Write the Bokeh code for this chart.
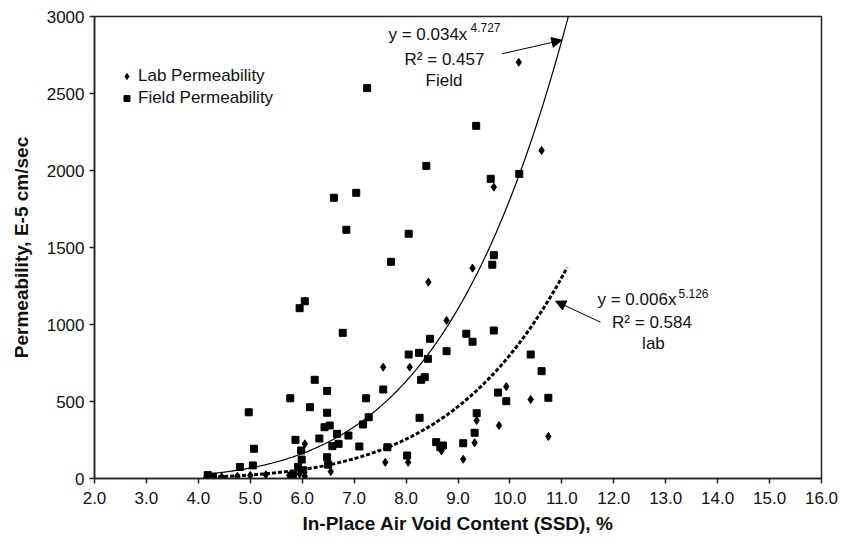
from bokeh.plotting import figure
from bokeh.models import (Range1d, Legend, LegendItem, Label, Arrow, NormalHead,
                          FixedTicker, NumeralTickFormatter, ColumnDataSource)
from bokeh.embed import file_html
from bokeh.resources import INLINE
import numpy as np

# ---------------- data ----------------
field_x = [4.18, 4.28, 4.80, 5.05, 4.97, 5.07, 5.77, 5.82, 5.87, 5.92, 6.02, 5.99,
           5.95, 6.05, 6.15, 6.24, 6.33, 6.43, 6.53, 6.48, 6.48, 6.48, 6.50, 6.58,
           6.70, 6.67, 6.89, 6.61, 6.85, 6.78, 7.04, 7.25, 7.10, 7.17, 7.23, 7.28,
           7.56, 7.64, 7.71, 8.02, 8.05, 8.05, 8.25, 8.26, 8.29, 8.36, 8.39, 8.42,
           8.46, 8.58, 8.66, 8.71, 8.78, 9.10, 9.16, 9.28, 9.32, 9.36, 9.35, 9.63,
           9.66, 9.69, 9.69, 9.77, 9.93, 10.18, 10.40, 10.61, 10.74, 5.98]
field_y = [22, 12, 75, 85, 430, 193, 521, 22, 251, 75, 54, 123,
           1106, 1151, 463, 641, 260, 333, 344, 427, 569, 138, 90, 210,
           225, 290, 279, 1823, 1615, 946, 1855, 2535, 208, 351, 521, 398,
           578, 203, 1407, 149, 805, 1589, 816, 394, 641, 658, 2030, 777,
           907, 236, 203, 214, 827, 229, 940, 888, 297, 424, 2290, 1946,
           1388, 1450, 961, 558, 502, 1978, 805, 697, 524, 182]

lab_x = [4.15, 4.22, 4.30, 4.45, 4.75, 5.00, 5.30, 5.75, 5.95, 6.05, 6.05, 6.55,
         7.56, 7.60, 8.04, 8.07, 8.43, 8.68, 8.78, 9.10, 9.28, 9.32, 9.36, 9.69,
         9.79, 9.93, 10.17, 10.40, 10.61, 10.74]
lab_y = [5, 8, 6, 10, 15, 20, 25, 20, 30, 15, 225, 45,
         723, 105, 105, 723, 1275, 180, 1026, 125, 1366, 232, 377, 1892,
         344, 597, 2703, 513, 2130, 273]

x_ticks = [2.0, 3.0, 4.0, 5.0, 6.0, 7.0, 8.0, 9.0, 10.0, 11.0, 12.0, 13.0, 14.0, 15.0, 16.0]
y_ticks = [0, 500, 1000, 1500, 2000, 2500, 3000]

# power trendlines shown on the chart: y = a * x^b
field_fit = (0.034, 4.727)
lab_fit = (0.006, 5.126)
field_fit_range = (4.15, 11.2)
lab_fit_range = (4.15, 11.1)

FONT = "Liberation Sans"

p = figure(width=841, height=541, output_backend="svg", toolbar_location=None,
           x_range=Range1d(2, 16), y_range=Range1d(0, 3000),
           min_border_left=94, min_border_right=20, min_border_top=16,
           min_border_bottom=63, background_fill_color="white",
           border_fill_color="white")
p.grid.visible = False
p.outline_line_color = "#222222"
p.outline_line_width = 1.5

# trendlines
xf = np.linspace(field_fit_range[0], field_fit_range[1], 300)
p.line(xf, field_fit[0] * xf ** field_fit[1], line_color="black", line_width=1.2)
xl = np.linspace(lab_fit_range[0], lab_fit_range[1], 300)
p.line(xl, lab_fit[0] * xl ** lab_fit[1], line_color="black", line_width=3,
       line_dash="4 2")

# scatter series
r_lab = p.scatter(lab_x, lab_y, marker="diamond", size=8, fill_color="black",
                  line_color="black")
r_field = p.scatter(field_x, field_y, marker="square", size=7, fill_color="black",
                    line_color="black")

legend = Legend(items=[LegendItem(label="Lab Permeability", renderers=[r_lab]),
                       LegendItem(label="Field Permeability", renderers=[r_field])],
                location=(25, 370), padding=0, margin=0, spacing=2,
                glyph_width=15, glyph_height=20, label_height=20,
                label_standoff=4, border_line_color=None,
                background_fill_alpha=0,
                label_text_font=FONT, label_text_font_size="17px",
                label_text_color="#111111")
p.add_layout(legend, "center")

# axes
for ax in (p.xaxis, p.yaxis):
    ax.axis_line_color = "#222222"
    ax.axis_line_width = 1.5
    ax.major_tick_line_color = "#222222"
    ax.major_tick_line_width = 1.5
    ax.major_tick_out = 5
    ax.major_tick_in = 0
    ax.minor_tick_out = 0
    ax.minor_tick_in = 0
    ax.major_label_text_font = FONT
    ax.major_label_text_font_size = "17px"
    ax.major_label_text_color = "#111111"
    ax.axis_label_text_font = FONT
    ax.axis_label_text_font_size = "19px"
    ax.axis_label_text_font_style = "bold"
    ax.axis_label_text_color = "#111111"

p.xaxis.ticker = FixedTicker(ticks=x_ticks)
p.xaxis.formatter = NumeralTickFormatter(format="0.0")
p.yaxis.ticker = FixedTicker(ticks=y_ticks)
p.yaxis.formatter = NumeralTickFormatter(format="0")
p.xaxis.axis_label = "In-Place Air Void Content (SSD), %"
p.yaxis.axis_label = "Permeability, E-5 cm/sec"
p.xaxis.major_label_standoff = 8
p.xaxis.axis_label_standoff = 6
p.yaxis.major_label_standoff = 5
p.yaxis.axis_label_standoff = 12

# annotations
def lab_text(x, y, text, size="17px", align="left"):
    p.add_layout(Label(x=x, y=y, text=text, text_font=FONT, text_font_size=size,
                       text_color="#111111", text_baseline="middle",
                       text_align=align))

lab_text(7.66, 2886, "y = 0.034x")
lab_text(9.24, 2929, "4.727", size="12px")
lab_text(8.74, 2721, "R\u00b2 = 0.457", align="center")
lab_text(8.73, 2584, "Field", align="center")
p.add_layout(Arrow(end=NormalHead(size=10, fill_color="black", line_color="black"),
                   x_start=9.85, y_start=2758, x_end=11.0, y_end=2846,
                   line_color="black", line_width=1))

lab_text(11.686, 1160, "y = 0.006x")
lab_text(13.246, 1203, "5.126", size="12px")
lab_text(12.736, 1013, "R\u00b2 = 0.584", align="center")
lab_text(12.764, 877, "lab", align="center")
p.add_layout(Arrow(end=NormalHead(size=10, fill_color="black", line_color="black"),
                   x_start=11.744, y_start=1015, x_end=10.88, y_end=1151,
                   line_color="black", line_width=1))

open("out.html", "w").write(file_html(p, INLINE))
